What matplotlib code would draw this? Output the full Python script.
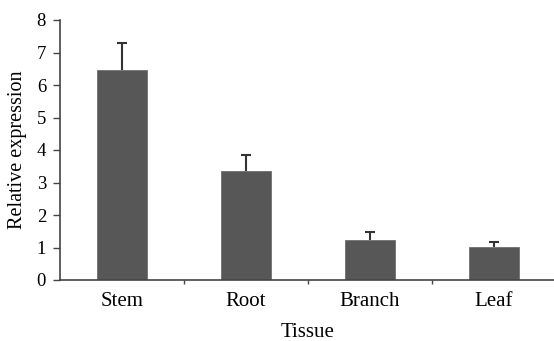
import matplotlib
matplotlib.use("Agg")
import matplotlib.pyplot as plt

# values
tissues = ["Stem", "Root", "Branch", "Leaf"]
expression = [6.46, 3.35, 1.23, 1.02]
errors = [0.83, 0.50, 0.25, 0.15]

plt.rcParams['font.family'] = ['Liberation Serif', 'DejaVu Serif']

fig = plt.figure(figsize=(5.54, 3.41), dpi=100)
ax = fig.add_axes([60 / 554, 61 / 341, 496 / 554, 260 / 341])

x = range(len(tissues))
ax.bar(x, expression, width=0.4, color="#575757", edgecolor="#707070", linewidth=0.6,
       zorder=2)
eb = ax.errorbar(x, expression, yerr=[[0] * len(errors), errors], fmt="none",
                 ecolor="#333333", elinewidth=1.5, capsize=3.5, capthick=1.5, zorder=3)
# only the upper cap is shown
eb[1][0].set_visible(False)

ax.set_xlim(-0.5, 3.5)
ax.set_ylim(0, 8)
ax.set_yticks(range(9))
ax.set_xticks(x)
ax.set_xticklabels(tissues)
# little marks between categories on the x axis
ax.set_xticks([0.5, 1.5, 2.5, 3.5], minor=True)
ax.tick_params(axis="x", which="major", length=0, pad=9, labelsize=15)
ax.tick_params(axis="x", which="minor", length=3, width=1, direction="out", color="#444444")
ax.tick_params(axis="y", length=5, width=1, pad=5, labelsize=13.5, color="#444444")

for side in ["top", "right"]:
    ax.spines[side].set_visible(False)
for side in ["left", "bottom"]:
    ax.spines[side].set_color("#444444")
    ax.spines[side].set_linewidth(1.2)

ax.set_ylabel("Relative expression", fontsize=14.5, labelpad=7)
ax.set_xlabel("Tissue", fontsize=15, labelpad=8)

fig.savefig("out.png", dpi=100)
